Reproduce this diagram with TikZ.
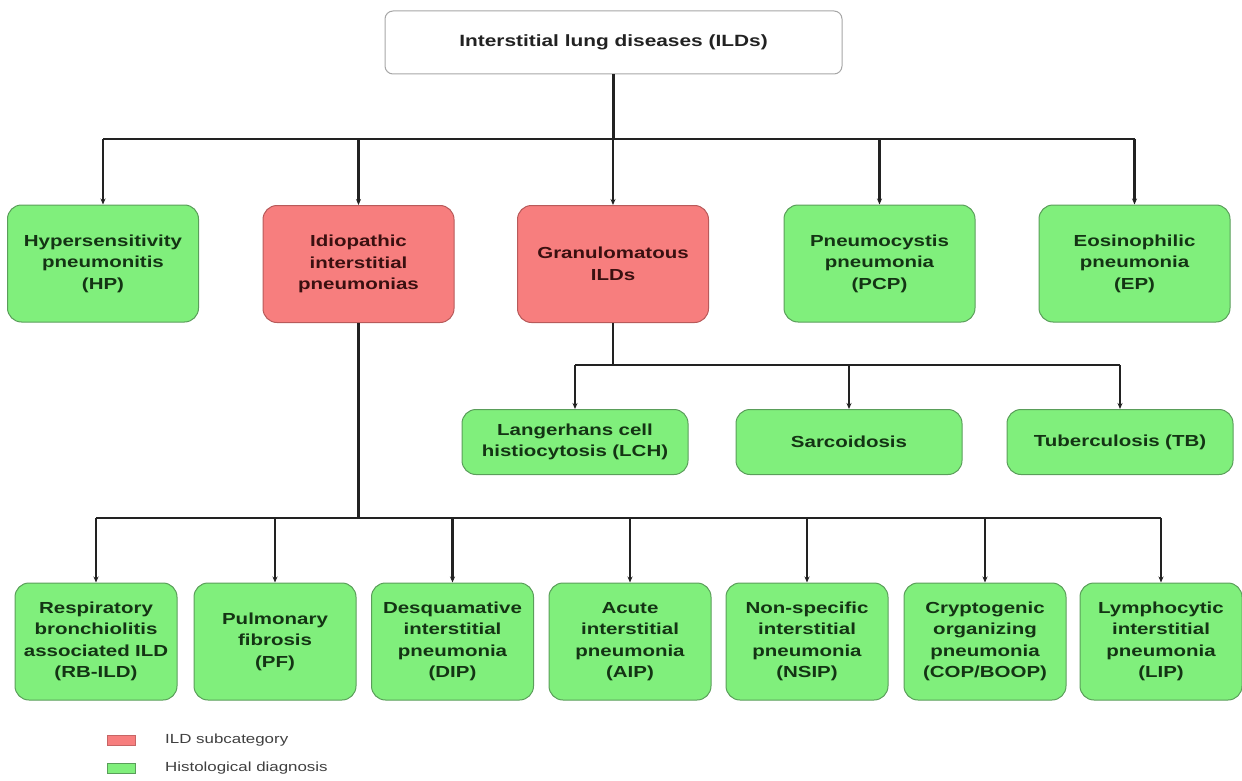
\documentclass[tikz,border=0pt]{standalone}
\usepackage{fontspec}
\setmainfont[FakeStretch=1.28]{Liberation Sans}
\usetikzlibrary{arrows.meta}
\definecolor{gfill}{HTML}{80EF7C}
\definecolor{gdraw}{HTML}{5A9E5A}
\definecolor{rfill}{HTML}{F77E7E}
\definecolor{rdraw}{HTML}{B85A5A}
\definecolor{lnc}{HTML}{222222}
\definecolor{gtxt}{HTML}{143414}
\definecolor{rtxt}{HTML}{3A1010}
\begin{document}
\begin{tikzpicture}[x=1pt,y=-1pt,
  box/.style={rectangle, rounded corners=14pt, draw, line width=1pt, align=center,
    font=\fontsize{16}{21.5}\selectfont\bfseries, inner sep=0pt},
  gbox/.style={box, fill=gfill, draw=gdraw, text=gtxt},
  rbox/.style={box, fill=rfill, draw=rdraw, text=rtxt},
  wide/.style={minimum width=191pt, minimum height=117pt, text width=180pt},
  mid/.style={minimum width=226pt, minimum height=65pt, text width=215pt},
  small/.style={minimum width=162pt, minimum height=117pt, text width=158pt},
  conn/.style={draw=lnc, line width=2.2pt},
  arr/.style={conn, -{Stealth[length=6pt,width=5pt]}},
  legbox/.style={rectangle, minimum width=28pt, minimum height=10pt, inner sep=0pt, line width=0.8pt},
  legtxt/.style={anchor=west, inner sep=0pt, text=black!75, font=\fontsize{13.2}{15}\selectfont}]
\useasboundingbox (0,0) rectangle (1242,781);

% top
\node[rectangle, rounded corners=8pt, draw=black!35, line width=1pt, fill=white,
  minimum width=457pt, minimum height=63pt, text=lnc,
  font=\fontsize{16.3}{18}\selectfont\bfseries] (top) at (613.5,42.5) {Interstitial lung diseases (ILDs)};

% second row
\node[gbox, wide] (hp) at (103,263.5) {Hypersensitivity\\pneumonitis\\(HP)};
\node[rbox, wide] (iip) at (358.5,264) {Idiopathic\\interstitial\\pneumonias};
\node[rbox, wide] (gran) at (613,264) {Granulomatous\\ILDs};
\node[gbox, wide] (pcp) at (879.5,263.5) {Pneumocystis\\pneumonia\\(PCP)};
\node[gbox, wide] (ep) at (1134.5,263.5) {Eosinophilic\\pneumonia\\(EP)};

% granulomatous children
\node[gbox, mid] (lch) at (575,442) {Langerhans cell\\histiocytosis (LCH)};
\node[gbox, mid] (sarc) at (849,442) {Sarcoidosis};
\node[gbox, mid] (tb) at (1120,442) {Tuberculosis (TB)};

% IIP children
\node[gbox, small] (rb) at (96,641.5) {Respiratory\\bronchiolitis\\associated ILD\\(RB-ILD)};
\node[gbox, small] (pf) at (275,641.5) {Pulmonary\\fibrosis\\(PF)};
\node[gbox, small] (dip) at (452.5,641.5) {Desquamative\\interstitial\\pneumonia\\(DIP)};
\node[gbox, small] (aip) at (630,641.5) {Acute\\interstitial\\pneumonia\\(AIP)};
\node[gbox, small] (nsip) at (807,641.5) {Non-specific\\interstitial\\pneumonia\\(NSIP)};
\node[gbox, small] (cop) at (985,641.5) {Cryptogenic\\organizing\\pneumonia\\(COP/BOOP)};
\node[gbox, small] (lip) at (1161,641.5) {Lymphocytic\\interstitial\\pneumonia\\(LIP)};

% junctions
\coordinate (j1) at (613.5,139);
\coordinate (j2) at (613,365);
\coordinate (j3) at (358.5,518);

% connectors level 1
\draw[conn] (top.south) -- (j1);
\draw[conn] (hp.north |- j1) -- (ep.north |- j1);
\foreach \n in {hp,iip,gran,pcp,ep} \draw[arr] (\n.north |- j1) -- (\n.north);

% connectors granulomatous
\draw[conn] (gran.south) -- (j2);
\draw[conn] (lch.north |- j2) -- (tb.north |- j2);
\foreach \n in {lch,sarc,tb} \draw[arr] (\n.north |- j2) -- (\n.north);

% connectors IIP
\draw[conn] (iip.south) -- (j3);
\draw[conn] (rb.north |- j3) -- (lip.north |- j3);
\foreach \n in {rb,pf,dip,aip,nsip,cop,lip} \draw[arr] (\n.north |- j3) -- (\n.north);

% legend
\node[legbox, fill=rfill, draw=rfill!80!black] (l1) at (121,740) {};
\node[legbox, fill=gfill, draw=gdraw] (l2) at (121,768) {};
\node[legtxt] (t1) at (165,740) {ILD subcategory};
\node[legtxt] (t2) at (165,768) {Histological diagnosis};
\end{tikzpicture}
\end{document}
